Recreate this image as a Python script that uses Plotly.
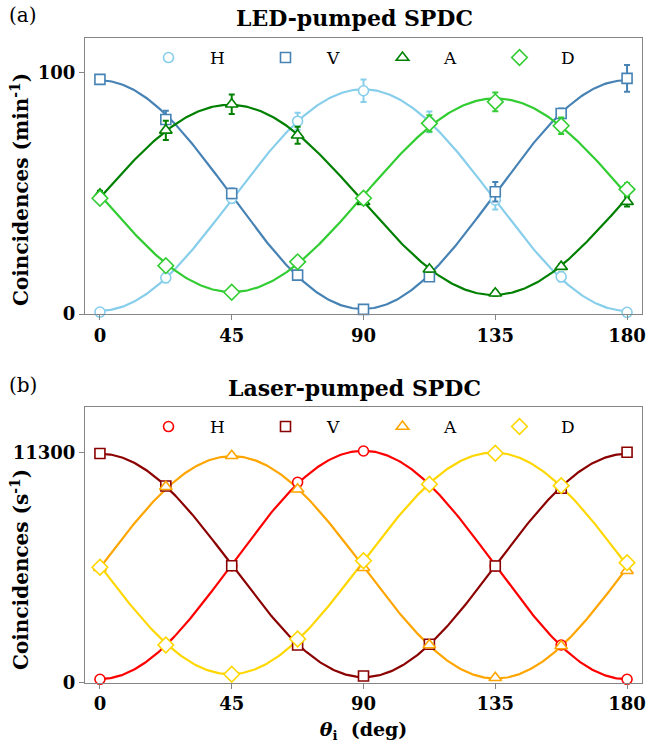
import numpy as np
import plotly.graph_objects as go

# ---------------- data ----------------
theta = [0, 22.5, 45, 67.5, 90, 112.5, 135, 157.5, 180]

# (a) LED-pumped SPDC, coincidences per minute
led_H = [0.8, 15.0, 47.9, 79.8, 92.4, 79.5, 47.2, 15.4, 0.7]
led_V = [97.1, 80.5, 49.9, 16.1, 1.9, 15.4, 50.6, 83.0, 97.5]
led_A = [49.5, 76.0, 86.8, 74.0, 46.5, 18.5, 8.6, 19.6, 46.5]
led_D = [47.9, 20.0, 9.0, 21.6, 47.9, 78.9, 87.8, 77.9, 51.6]
led_H_err = [1.0, 2.0, 2.0, 3.5, 4.7, 4.3, 4.0, 2.0, 1.0]
led_V_err = [1.5, 3.6, 2.0, 1.0, 1.0, 1.0, 4.0, 2.0, 5.5]
led_A_err = [1.5, 4.0, 4.0, 3.5, 1.0, 1.0, 1.0, 1.0, 2.0]
led_D_err = [1.0, 1.0, 1.0, 1.0, 1.0, 3.4, 3.9, 3.4, 2.5]

# (b) Laser-pumped SPDC, coincidences per second
las_H = [167, 1852, 5748, 9846, 11384, 9713, 5733, 1852, 167]
las_V = [11260, 9664, 5748, 1852, 329, 1887, 5733, 9551, 11320]
las_A = [5650, 9630, 11153, 9502, 5650, 1852, 246, 1803, 5503]
las_D = [5670, 1852, 413, 2147, 5994, 9748, 11271, 9679, 5896]
las_H_err = [15, 45, 75, 100, 105, 100, 75, 45, 15]
las_V_err = [105, 100, 75, 45, 20, 45, 75, 100, 105]
las_A_err = [75, 100, 105, 100, 75, 45, 15, 45, 75]
las_D_err = [75, 45, 20, 45, 75, 100, 105, 100, 75]

labels = ["H", "V", "A", "D"]
x_ticks = [0, 45, 90, 135, 180]
led_yticks = [0, 100]
las_yticks = [0, 11300]
las_yticklabels = ["0", "11300"]

led_colors = ["#87CEEB", "#4682B4", "#008000", "#32CD32"]
las_colors = ["#FF0000", "#8B0000", "#FFA500", "#FFD700"]
symbols = ["circle", "square", "triangle-up", "diamond"]
sizes = [10, 10, 11, 12]

SERIF = "DejaVu Serif"


def fit_curve(x, y, xf):
    """Least-squares fit y = a + b cos(2x) + c sin(2x) (Malus law)."""
    xr = np.radians(np.asarray(x, float))
    M = np.column_stack([np.ones_like(xr), np.cos(2 * xr), np.sin(2 * xr)])
    coef, *_ = np.linalg.lstsq(M, np.asarray(y, float), rcond=None)
    xfr = np.radians(xf)
    return coef[0] + coef[1] * np.cos(2 * xfr) + coef[2] * np.sin(2 * xfr)


xf = np.linspace(0, 180, 361)

fig = go.Figure()

panels = [
    ("x", "y", "legend", [led_H, led_V, led_A, led_D],
     [led_H_err, led_V_err, led_A_err, led_D_err], led_colors),
    ("x2", "y2", "legend2", [las_H, las_V, las_A, las_D],
     [las_H_err, las_V_err, las_A_err, las_D_err], las_colors),
]

for xa, ya, lg, series, errs, cols in panels:
    # fitted curves
    for s, c in zip(series, cols):
        fig.add_trace(go.Scatter(
            x=xf, y=fit_curve(theta, s, xf), mode="lines",
            line=dict(color=c, width=2.2), xaxis=xa, yaxis=ya,
            showlegend=False, hoverinfo="skip"))
    # data points
    for s, e, c, sym, sz, lab in zip(series, errs, cols, symbols, sizes, labels):
        fig.add_trace(go.Scatter(
            x=theta, y=s, mode="markers", name="\u00a0\u00a0\u00a0\u00a0" + lab,
            marker=dict(symbol=sym, size=sz, color="white",
                        line=dict(color=c, width=1.6)),
            error_y=dict(type="data", array=e, visible=True, color=c,
                         thickness=2, width=3),
            xaxis=xa, yaxis=ya, legend=lg, cliponaxis=False))

axis_common = dict(
    showline=True, mirror=True, linecolor="#858585", linewidth=1.3,
    ticks="outside", ticklen=5, tickcolor="#858585", tickwidth=1.2,
    showgrid=False, zeroline=False, automargin=False,
    tickfont=dict(family=SERIF, size=18, color="black", weight="bold"),
)

H = 747.0
W_PLOT = 557.0
L = 85.0


def px_x(px):
    return (px - L) / W_PLOT


def px_y(py):
    return 1 - py / H


top_dom = [px_y(314), px_y(38.3)]
bot_dom = [px_y(682.7), px_y(406.7)]

fig.update_layout(
    width=646, height=747,
    margin=dict(l=85, r=4, t=0, b=0),
    paper_bgcolor="white", plot_bgcolor="white",
    font=dict(family=SERIF, color="black"),
    xaxis=dict(axis_common, domain=[0, 1], range=[-5.1, 185.1],
               tickvals=x_ticks, anchor="y"),
    yaxis=dict(axis_common, domain=top_dom, range=[0, 114.1],
               tickvals=led_yticks, anchor="x"),
    xaxis2=dict(axis_common, domain=[0, 1], range=[-5.1, 185.1],
                tickvals=x_ticks, anchor="y2",
                title=dict(text="<b><i>θ</i><sub>i</sub>\u00a0\u00a0(deg)</b>",
                           font=dict(family=SERIF, size=19), standoff=9)),
    yaxis2=dict(axis_common, domain=bot_dom, range=[0, 13560],
                tickvals=las_yticks, ticktext=las_yticklabels, anchor="x2"),
    legend=dict(orientation="h", x=0.114, y=px_y(58), xanchor="left",
                yanchor="middle", entrywidth=72, bgcolor="rgba(0,0,0,0)",
                font=dict(family=SERIF, size=17)),
    legend2=dict(orientation="h", x=0.114, y=px_y(427), xanchor="left",
                 yanchor="middle", entrywidth=72, bgcolor="rgba(0,0,0,0)",
                 font=dict(family=SERIF, size=17)),
    annotations=[
        dict(text="<b>LED-pumped SPDC</b>", x=px_x(354), y=px_y(18),
             xref="paper", yref="paper", showarrow=False, yanchor="middle",
             font=dict(family=SERIF, size=22)),
        dict(text="(a)", x=px_x(7), y=px_y(15), xref="paper", yref="paper",
             showarrow=False, xanchor="left", yanchor="middle",
             font=dict(family=SERIF, size=20)),
        dict(text="<b>Laser-pumped SPDC</b>", x=px_x(354), y=px_y(388),
             xref="paper", yref="paper", showarrow=False, yanchor="middle",
             font=dict(family=SERIF, size=22)),
        dict(text="(b)", x=px_x(7), y=px_y(385), xref="paper", yref="paper",
             showarrow=False, xanchor="left", yanchor="middle",
             font=dict(family=SERIF, size=20)),
        dict(text="<b>Coincidences (min<sup>-1</sup>)</b>", textangle=-90,
             x=px_x(20), y=px_y(190), xref="paper", yref="paper",
             showarrow=False, xanchor="center", yanchor="middle",
             font=dict(family=SERIF, size=20)),
        dict(text="<b>Coincidences (s<sup>-1</sup>)</b>", textangle=-90,
             x=px_x(20), y=px_y(570), xref="paper", yref="paper",
             showarrow=False, xanchor="center", yanchor="middle",
             font=dict(family=SERIF, size=20)),
    ],
)

fig.write_html(
    "out.html",
    config={"displayModeBar": False},
    post_script="document.body.style.margin='0';"
                "document.body.style.overflow='hidden';",
)
